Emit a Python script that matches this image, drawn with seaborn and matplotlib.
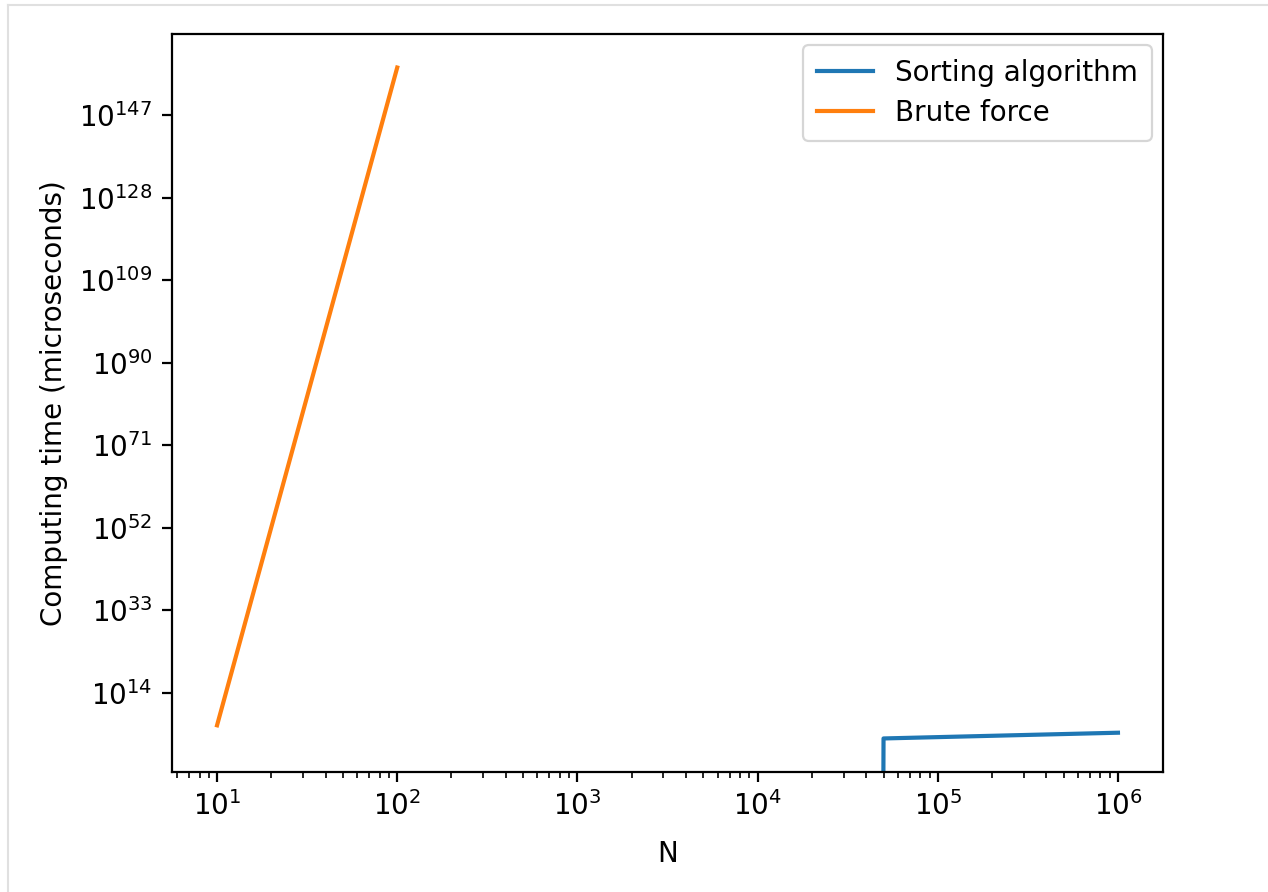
import numpy as np
import pandas as pd
import matplotlib
matplotlib.use("Agg")
import matplotlib.pyplot as plt
from matplotlib.lines import Line2D
import seaborn as sns

# Data
sort_n = [40000, 50000, 100000, 150000, 200000, 250000, 300000, 350000, 400000,
          450000, 500000, 550000, 600000, 650000, 700000, 750000, 800000,
          850000, 900000, 950000, 1000000]
sort_time = [0, 3400, 6900, 10400, 13900, 17500, 21000, 24600, 28100, 31700,
             35200, 38800, 42400, 46000, 49600, 53200, 56800, 60400, 64000,
             67600, 71200]
brute_n = [10, 100]
brute_time = [3.6e6, 9.3e157]

labels = ["Sorting algorithm", "Brute force"]
colors = ["#1f77b4", "#ff7f0e"]

fig = plt.figure(figsize=(12.68, 8.92), dpi=100)
ax = fig.add_axes([172 / 1268, 1 - 772 / 892, (1163 - 172) / 1268, (772 - 34) / 892])

scale = 2.0  # points scaled to mimic 200-dpi rendering
plt.rcParams["font.size"] = 10 * scale

df_sort = pd.DataFrame({"N": sort_n, "t": sort_time})
df_brute = pd.DataFrame({"N": brute_n, "t": brute_time})

sns.lineplot(data=df_sort, x="N", y="t", ax=ax, color=colors[0], label=labels[0],
             estimator=None, sort=False, linewidth=1.5 * scale)
sns.lineplot(data=df_brute, x="N", y="t", ax=ax, color=colors[1], label=labels[1],
             estimator=None, sort=False, linewidth=1.5 * scale)

ax.set_xscale("log")
ax.set_yscale("log")
ax.relim()
ax.autoscale_view()

ax.set_xlabel("N", fontsize=10 * scale, labelpad=4 * scale + 5.5)
ax.set_ylabel("Computing time (microseconds)", fontsize=10 * scale, labelpad=4 * scale)
ax.tick_params(axis="both", which="major", labelsize=10 * scale, length=3.5 * scale,
               width=0.8 * scale, pad=3.5 * scale)
ax.tick_params(axis="both", which="minor", length=2 * scale, width=0.6 * scale)
for sp in ax.spines.values():
    sp.set_linewidth(0.8 * scale)

leg = ax.legend(loc="upper right", fontsize=10 * scale, frameon=True,
                borderpad=0.5, labelspacing=0.42, handlelength=2.0,
                handletextpad=0.8, borderaxespad=0.4)
leg.get_frame().set_linewidth(0.8 * scale)
for h in leg.get_lines():
    h.set_linewidth(1.5 * scale)

# faint frame lines of the screenshot
fig.add_artist(Line2D([8 / 1268, 1.0], [1 - 5 / 892, 1 - 5 / 892],
                      transform=fig.transFigure, color="#e0e0e0", linewidth=1.5))
fig.add_artist(Line2D([8 / 1268, 8 / 1268], [0, 1 - 5 / 892],
                      transform=fig.transFigure, color="#e0e0e0", linewidth=1.5))

fig.savefig("out.png", dpi=100, facecolor="white")
